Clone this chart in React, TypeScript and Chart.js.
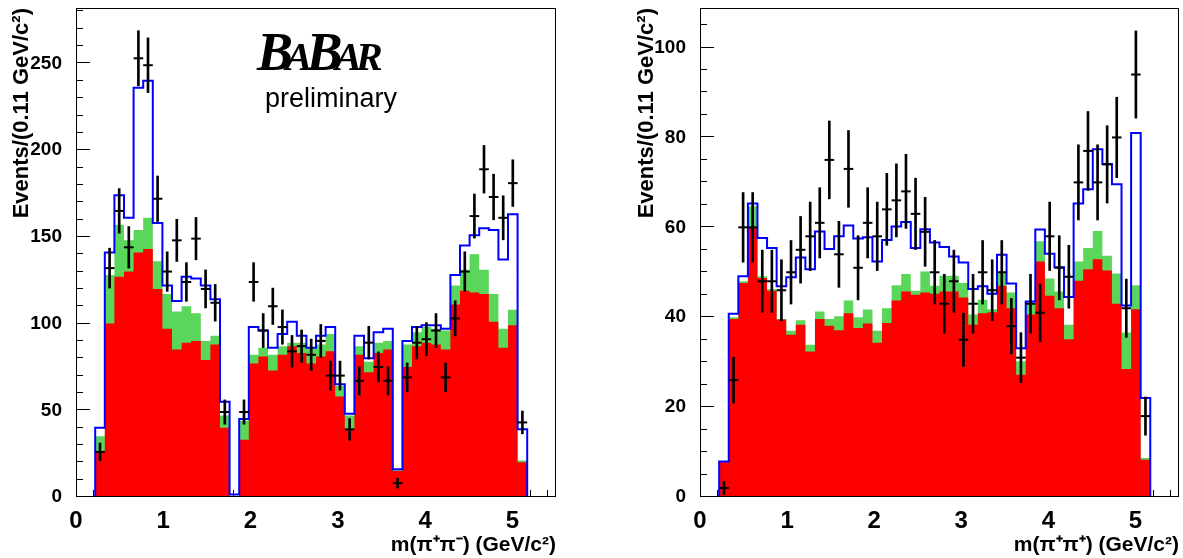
import React, { useEffect, useRef } from "react";
import { Chart, registerables } from "chart.js";

Chart.register(...registerables);

// ---------- data ----------
const BIN_WIDTH = 0.11;
const X_MIN = 0;
const X_MAX = 5.5;
const xTickValues = [0, 1, 2, 3, 4, 5];

// m(pi+ pi-) panel: 50 bins of 0.11 GeV/c^2
const pmRed = [0, 0, 26, 100, 127, 130, 141, 143, 120, 97, 85, 89, 90, 79, 88, 40, 0, 33, 77, 81, 73, 82, 87, 83, 77, 81, 84, 58, 39, 82, 72, 83, 85, 15, 75, 87, 89, 88, 85, 111, 119, 118, 117, 101, 86, 99, 20, 0, 0, 0];
const pmGreen = [0, 0, 9, 28, 30, 18, 13, 18, 16, 20, 22, 21, 16, 11, 5, 7, 0, 11, 5, 5, 9, 5, 2, 6, 9, 7, 10, 6, 8, 5, 6, 6, 5, 0.5, 13, 8, 9, 9, 11, 11, 12, 22, 14, 16, 11, 9, 1, 0, 0, 0];
const pmFit = [0, 0, 40, 141, 174, 161, 236, 240, 158, 122, 113, 127, 126, 122, 114, 55, 1.5, 45, 98, 96, 86, 94, 101, 93, 86, 93, 98, 65, 48, 93, 80, 95, 97, 16, 90, 98, 99, 99, 97, 128, 145, 151, 155, 154, 137, 163, 39, 0, 0, 0];
const pmData: (number | null)[] = [null, null, 26, 132, 165, 144, 253, 249, 172, 130, 148, 124, 149, 120, 112, 49, null, 49, 124, 96, 110, 98, 84, 87, 82, 90, 70, 70, 39, 67, 89, 75, 67, 8, 69, 89, 91, 96, 69, 103, 130, 162, 189, 173, 161, 181, 43, null, null, null];
const pmYTicks = [0, 50, 100, 150, 200, 250];
const pmYMax = 282;

// m(pi+ pi+) panel
const ppRed = [0, 0, 7.8, 39.6, 47.6, 60, 48.7, 45.9, 39.5, 36.1, 38.3, 32.4, 39.6, 38.1, 37.1, 40.9, 37.6, 38.6, 34.3, 38.7, 43.7, 45.7, 45, 45.5, 45.2, 45.7, 45.7, 44.4, 38.3, 40.9, 41.1, 47, 42, 27.2, 40.6, 52.4, 44.8, 42, 35.1, 48.1, 50.7, 52.9, 50.4, 43, 28.5, 41.8, 8.3, 0, 0, 0];
const ppGreen = [0, 0, 0, 0.4, 0.4, 4.7, 0.4, 0.4, 0.1, 0.9, 1, 1.5, 1.7, 1.5, 3.1, 2.8, 2.4, 3.1, 2.7, 3.3, 3.4, 3.9, 0.9, 4.7, 1.8, 3.5, 3.5, 3.2, 2.3, 3, 0.7, 2.8, 3.5, 3, 2.6, 4.5, 3.8, 3.7, 3.2, 4.3, 4.7, 6.3, 3.3, 6.7, 8.1, 5.3, 0.4, 0, 0, 0];
const ppFit = [0, 0, 7.9, 40.8, 49.1, 65.3, 57.6, 55.4, 46.9, 48.9, 53.3, 50.7, 59.1, 55.2, 58, 60.4, 57.5, 57.8, 52.4, 57.2, 60.2, 61.2, 55.4, 59.6, 56.6, 55.6, 53.5, 52.2, 46.3, 46.9, 45.2, 53.9, 47.5, 33.1, 43.5, 59.5, 54.1, 51.1, 44.5, 65.3, 68.5, 77.4, 74.1, 69.6, 42.6, 81, 22, 0, 0, 0];
const ppData: (number | null)[] = [null, null, 2, 26, 60, 60, 48, 48, 46, 50, 55, 58, 61, 75, 54, 73, 51, 61, 58, 64, 66, 68, 63, 59, 50, 43, 48, 35, 43, 50, 46, 50, 38, 31, 43, 41, 58, 51, 49, 70, 77, 70, 74, 80, 42, 94, 18, null, null, null];
const ppYTicks = [0, 20, 40, 60, 80, 100];
const ppYMax = 108.8;

const yTitle = "Events/(0.11 GeV/c²)";
const pmXTitle = "m(π⁺π⁻) (GeV/c²)";
const ppXTitle = "m(π⁺π⁺) (GeV/c²)";
const logoLetters = ["B", "A", "B", "A", "R"];
const logoIsBig = [true, false, true, false, false];
const prelimText = "preliminary";

// ---------- styles ----------
const FONT = '"Liberation Sans", Arial, Helvetica, sans-serif';
const RED = "#ff0000";
const GREEN = "#5ad65a";
const BLUE = "#0000ff";

type PanelSpec = {
  red: number[];
  green: number[];
  fit: number[];
  data: (number | null)[];
  yMax: number;
  yTicks: number[];
  yMinorStep: number;
  xTitle: string;
  logo: boolean;
};

type FrameSpec = {
  width: number;
  height: number;
  yAxisWidth: number;
  padRight: number;
  yTitlePad: number;
};

function histPoints(vals: number[]) {
  const pts = vals.map((v, i) => ({ x: i * BIN_WIDTH, y: v }));
  pts.push({ x: vals.length * BIN_WIDTH, y: vals[vals.length - 1] });
  return pts;
}

const decorPlugin = {
  id: "decor",
  beforeDatasetsDraw(chart: any, _args: any, opts: any) {
    const { ctx, chartArea: a, scales } = chart;
    const x = scales.x;
    const y = scales.y;
    ctx.save();
    ctx.strokeStyle = "#000";
    ctx.lineWidth = 1;
    ctx.beginPath();
    const nY = Math.floor(y.max / opts.yMinor + 1e-6);
    for (let i = 0; i <= nY; i++) {
      const v = i * opts.yMinor;
      const major = Math.abs(v / opts.yMajor - Math.round(v / opts.yMajor)) < 1e-6;
      const py = Math.round(y.getPixelForValue(v)) - 0.5;
      ctx.moveTo(a.left, py);
      ctx.lineTo(a.left + (major ? 14 : 7), py);
    }
    const nX = Math.floor(x.max / opts.xMinor + 1e-6);
    for (let i = 0; i <= nX; i++) {
      const v = i * opts.xMinor;
      const major = Math.abs(v - Math.round(v)) < 1e-6;
      const px = Math.round(x.getPixelForValue(v)) + 0.5;
      ctx.moveTo(px, a.bottom);
      ctx.lineTo(px, a.bottom - (major ? 14 : 7));
    }
    ctx.stroke();
    ctx.restore();
  },
  afterDatasetsDraw(chart: any, _args: any, opts: any) {
    const { ctx, chartArea: a } = chart;
    ctx.save();
    ctx.strokeStyle = "#000";
    ctx.lineWidth = 1;
    ctx.strokeRect(Math.round(a.left) + 0.5, Math.round(a.top) + 0.5, Math.round(a.right - a.left) - 1, Math.round(a.bottom - a.top) - 1);
    if (opts.logo) {
      ctx.fillStyle = "#000";
      ctx.textBaseline = "alphabetic";
      let px = 257;
      const base = 70;
      logoLetters.forEach((ch, i) => {
        ctx.font = logoIsBig[i]
          ? 'italic bold 54px "Liberation Serif", "Times New Roman", serif'
          : 'italic bold 40px "Liberation Serif", "Times New Roman", serif';
        ctx.fillText(ch, px, base);
        px += ctx.measureText(ch).width * 0.79;
      });
      ctx.font = `27px ${FONT}`;
      ctx.fillText(prelimText, 265, 107);
    }
    ctx.restore();
  },
};

function makeConfig(p: PanelSpec, f: FrameSpec): any {
  const greenTop = p.red.map((r, i) => r + p.green[i]);
  const points: { x: number; y: number }[] = [];
  const errors: { x: number; y: number[] }[] = [];
  p.data.forEach((v, i) => {
    if (v == null) return;
    const cx = (i + 0.5) * BIN_WIDTH;
    const e = Math.sqrt(v);
    points.push({ x: cx, y: v });
    errors.push({ x: cx, y: [v - e, v + e] });
  });
  const halfBin = (ctx: any) => {
    const s = ctx.chart.scales.x;
    return Math.abs(s.getPixelForValue(BIN_WIDTH) - s.getPixelForValue(0)) / 2;
  };
  return {
    type: "line",
    data: {
      datasets: [
        {
          type: "line",
          label: "data",
          data: points,
          showLine: false,
          pointStyle: "line",
          pointRadius: halfBin,
          pointBorderWidth: 2,
          pointBorderColor: "#000",
          pointBackgroundColor: "#000",
          order: 0,
        },
        {
          type: "bar",
          label: "data errors",
          data: errors,
          backgroundColor: "#000",
          barThickness: 2,
          borderWidth: 0,
          grouped: false,
          order: 1,
        },
        {
          type: "line",
          label: "fit",
          data: histPoints(p.fit),
          stepped: true,
          borderColor: BLUE,
          borderWidth: 2,
          pointRadius: 0,
          fill: false,
          order: 2,
        },
        {
          type: "line",
          label: "background 1",
          data: histPoints(p.red),
          stepped: true,
          borderWidth: 0,
          borderColor: "rgba(0,0,0,0)",
          backgroundColor: RED,
          fill: "origin",
          pointRadius: 0,
          order: 3,
        },
        {
          type: "line",
          label: "background 2",
          data: histPoints(greenTop),
          stepped: true,
          borderWidth: 0,
          borderColor: "rgba(0,0,0,0)",
          backgroundColor: GREEN,
          fill: "origin",
          pointRadius: 0,
          order: 4,
        },
      ],
    },
    options: {
      responsive: false,
      animation: false,
      events: [],
      layout: { padding: { left: 0, right: f.padRight, top: 8, bottom: 0 } },
      plugins: {
        legend: { display: false },
        tooltip: { enabled: false },
        decor: { yMajor: p.yTicks[1] - p.yTicks[0], yMinor: p.yMinorStep, xMinor: 0.2, logo: p.logo },
      },
      scales: {
        x: {
          type: "linear",
          min: X_MIN,
          max: X_MAX,
          offset: false,
          grid: { display: false, offset: false },
          border: { display: false },
          afterBuildTicks: (s: any) => {
            s.ticks = xTickValues.map((v) => ({ value: v }));
          },
          afterFit: (s: any) => {
            s.height = f.height - 497;
            s.paddingLeft = 0;
            s.paddingRight = 0;
          },
          ticks: {
            color: "#000",
            font: { family: FONT, size: 24, weight: "bold" },
            padding: 2,
            autoSkip: false,
            maxRotation: 0,
          },
          title: {
            display: true,
            text: p.xTitle,
            align: "end",
            color: "#000",
            font: { family: FONT, size: 21, weight: "bold" },
            padding: { top: 0, bottom: 0 },
          },
        },
        y: {
          type: "linear",
          min: 0,
          max: p.yMax,
          grid: { display: false },
          border: { display: false },
          afterBuildTicks: (s: any) => {
            s.ticks = p.yTicks.map((v) => ({ value: v }));
          },
          afterFit: (s: any) => {
            s.width = f.yAxisWidth;
            s.paddingTop = 0;
            s.paddingBottom = 0;
          },
          ticks: {
            color: "#000",
            font: { family: FONT, size: 19, weight: "bold" },
            padding: 6,
          },
          title: {
            display: true,
            text: yTitle,
            align: "end",
            color: "#000",
            font: { family: FONT, size: 22, weight: "bold" },
            padding: { top: f.yTitlePad, bottom: 0 },
          },
        },
      },
    },
    plugins: [decorPlugin],
  };
}

const pmPanel: PanelSpec = {
  red: pmRed,
  green: pmGreen,
  fit: pmFit,
  data: pmData,
  yMax: pmYMax,
  yTicks: pmYTicks,
  yMinorStep: 10,
  xTitle: pmXTitle,
  logo: true,
};

const ppPanel: PanelSpec = {
  red: ppRed,
  green: ppGreen,
  fit: ppFit,
  data: ppData,
  yMax: ppYMax,
  yTicks: ppYTicks,
  yMinorStep: 5,
  xTitle: ppXTitle,
  logo: false,
};

const leftFrame: FrameSpec = { width: 590, height: 558, yAxisWidth: 76, padRight: 34, yTitlePad: 9 };
const rightFrame: FrameSpec = { width: 563, height: 558, yAxisWidth: 80, padRight: 4, yTitlePad: 14 };

function HistCanvas({ panel, frame, left }: { panel: PanelSpec; frame: FrameSpec; left: number }) {
  const ref = useRef<HTMLCanvasElement | null>(null);
  useEffect(() => {
    if (!ref.current) return;
    const chart = new Chart(ref.current, makeConfig(panel, frame));
    return () => chart.destroy();
  }, [panel, frame]);
  return (
    <canvas
      ref={ref}
      width={frame.width}
      height={frame.height}
      style={{ position: "absolute", left, top: 0, width: frame.width, height: frame.height }}
    />
  );
}

export default function App() {
  return (
    <div style={{ position: "fixed", left: 0, top: 0, width: 1183, height: 558, background: "#fff", overflow: "hidden" }}>
      <HistCanvas panel={pmPanel} frame={leftFrame} left={0} />
      <HistCanvas panel={ppPanel} frame={rightFrame} left={620} />
    </div>
  );
}
